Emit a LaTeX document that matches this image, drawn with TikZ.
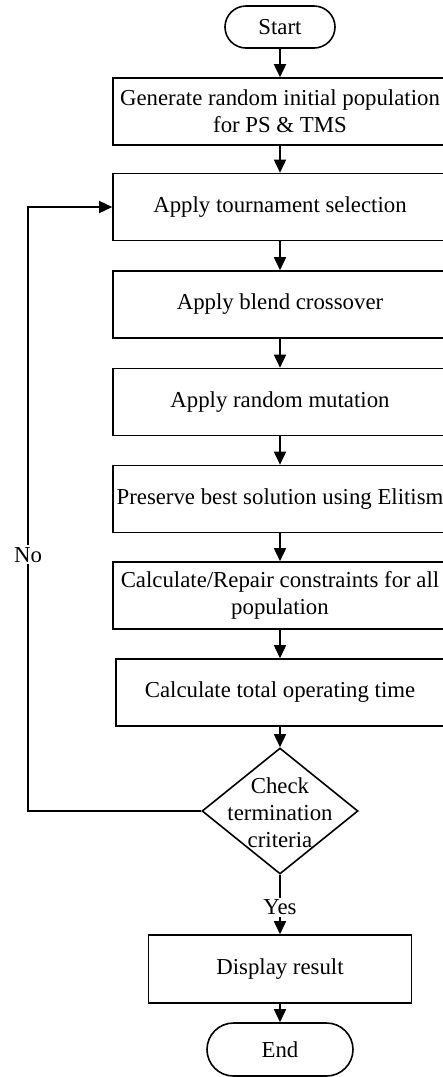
\documentclass[tikz,border=0pt]{standalone}
\usepackage{fontspec}
\setmainfont{Liberation Serif}
\usetikzlibrary{shapes.geometric,shapes.misc,arrows.meta}

\def\bw{167pt}
\def\bh{33.5pt}
\def\mx{280}

\begin{document}
\begin{tikzpicture}[x=0.5pt,y=-0.5pt,>={Triangle[length=6.5pt,width=6pt]},line width=0.8pt,
	font=\fontsize{11.4}{13.5}\selectfont,
	box/.style={draw,rectangle,minimum width=\bw,minimum height=\bh,align=center,inner sep=1pt},
	term/.style={draw,rounded rectangle,minimum height=21pt,inner sep=1pt}]
\useasboundingbox (0,0) rectangle (443,1077);
\node[term,minimum width=57pt] (start) at (\mx,27) {Start};
\node[box] (gen) at (\mx,111.5) {Generate random initial population\\for PS \& TMS};
\node[box] (sel) at (\mx,207) {Apply tournament selection};
\node[box] (cross) at (\mx,304.5) {Apply blend crossover};
\node[box] (mut) at (\mx,402) {Apply random mutation};
\node[box] (elit) at (\mx,499) {Preserve best solution using Elitism};
\node[box] (repair) at (\mx,595.5) {Calculate/Repair constraints for all\\population};
\node[box,minimum width=164pt] (optime) at (\mx,692.5) {Calculate total operating time};
\node[diamond,draw,minimum width=78pt,minimum height=63pt,inner sep=0pt] (check) at (\mx,811) {};
\node[align=center,inner sep=0pt] (checktxt) at ([yshift=-1pt]check) {Check\\termination\\criteria};
\node[box,minimum width=131.5pt,minimum height=34pt] (show) at (\mx,969) {Display result};
\node[term,minimum width=75pt,minimum height=26.5pt] (fin) at (\mx,1049.5) {End};
\coordinate (lb) at (28,811);
\coordinate (lt) at (28,207);

\draw[->] (start) -- (gen);
\draw[->] (gen) -- (sel);
\draw[->] (sel) -- (cross);
\draw[->] (cross) -- (mut);
\draw[->] (mut) -- (elit);
\draw[->] (elit) -- (repair);
\draw[->] (repair) -- (optime);
\draw[->] (optime) -- (check);
\draw[->] (check) -- node[fill=white,inner sep=1pt,pos=0.55] (yes) {Yes} (show);
\draw[->] (show) -- (fin);
\draw[->] (check.west) -- (lb) -- node[fill=white,inner sep=1pt,pos=0.424] (no) {No} (lt) -- (sel.west);
\end{tikzpicture}
\end{document}
